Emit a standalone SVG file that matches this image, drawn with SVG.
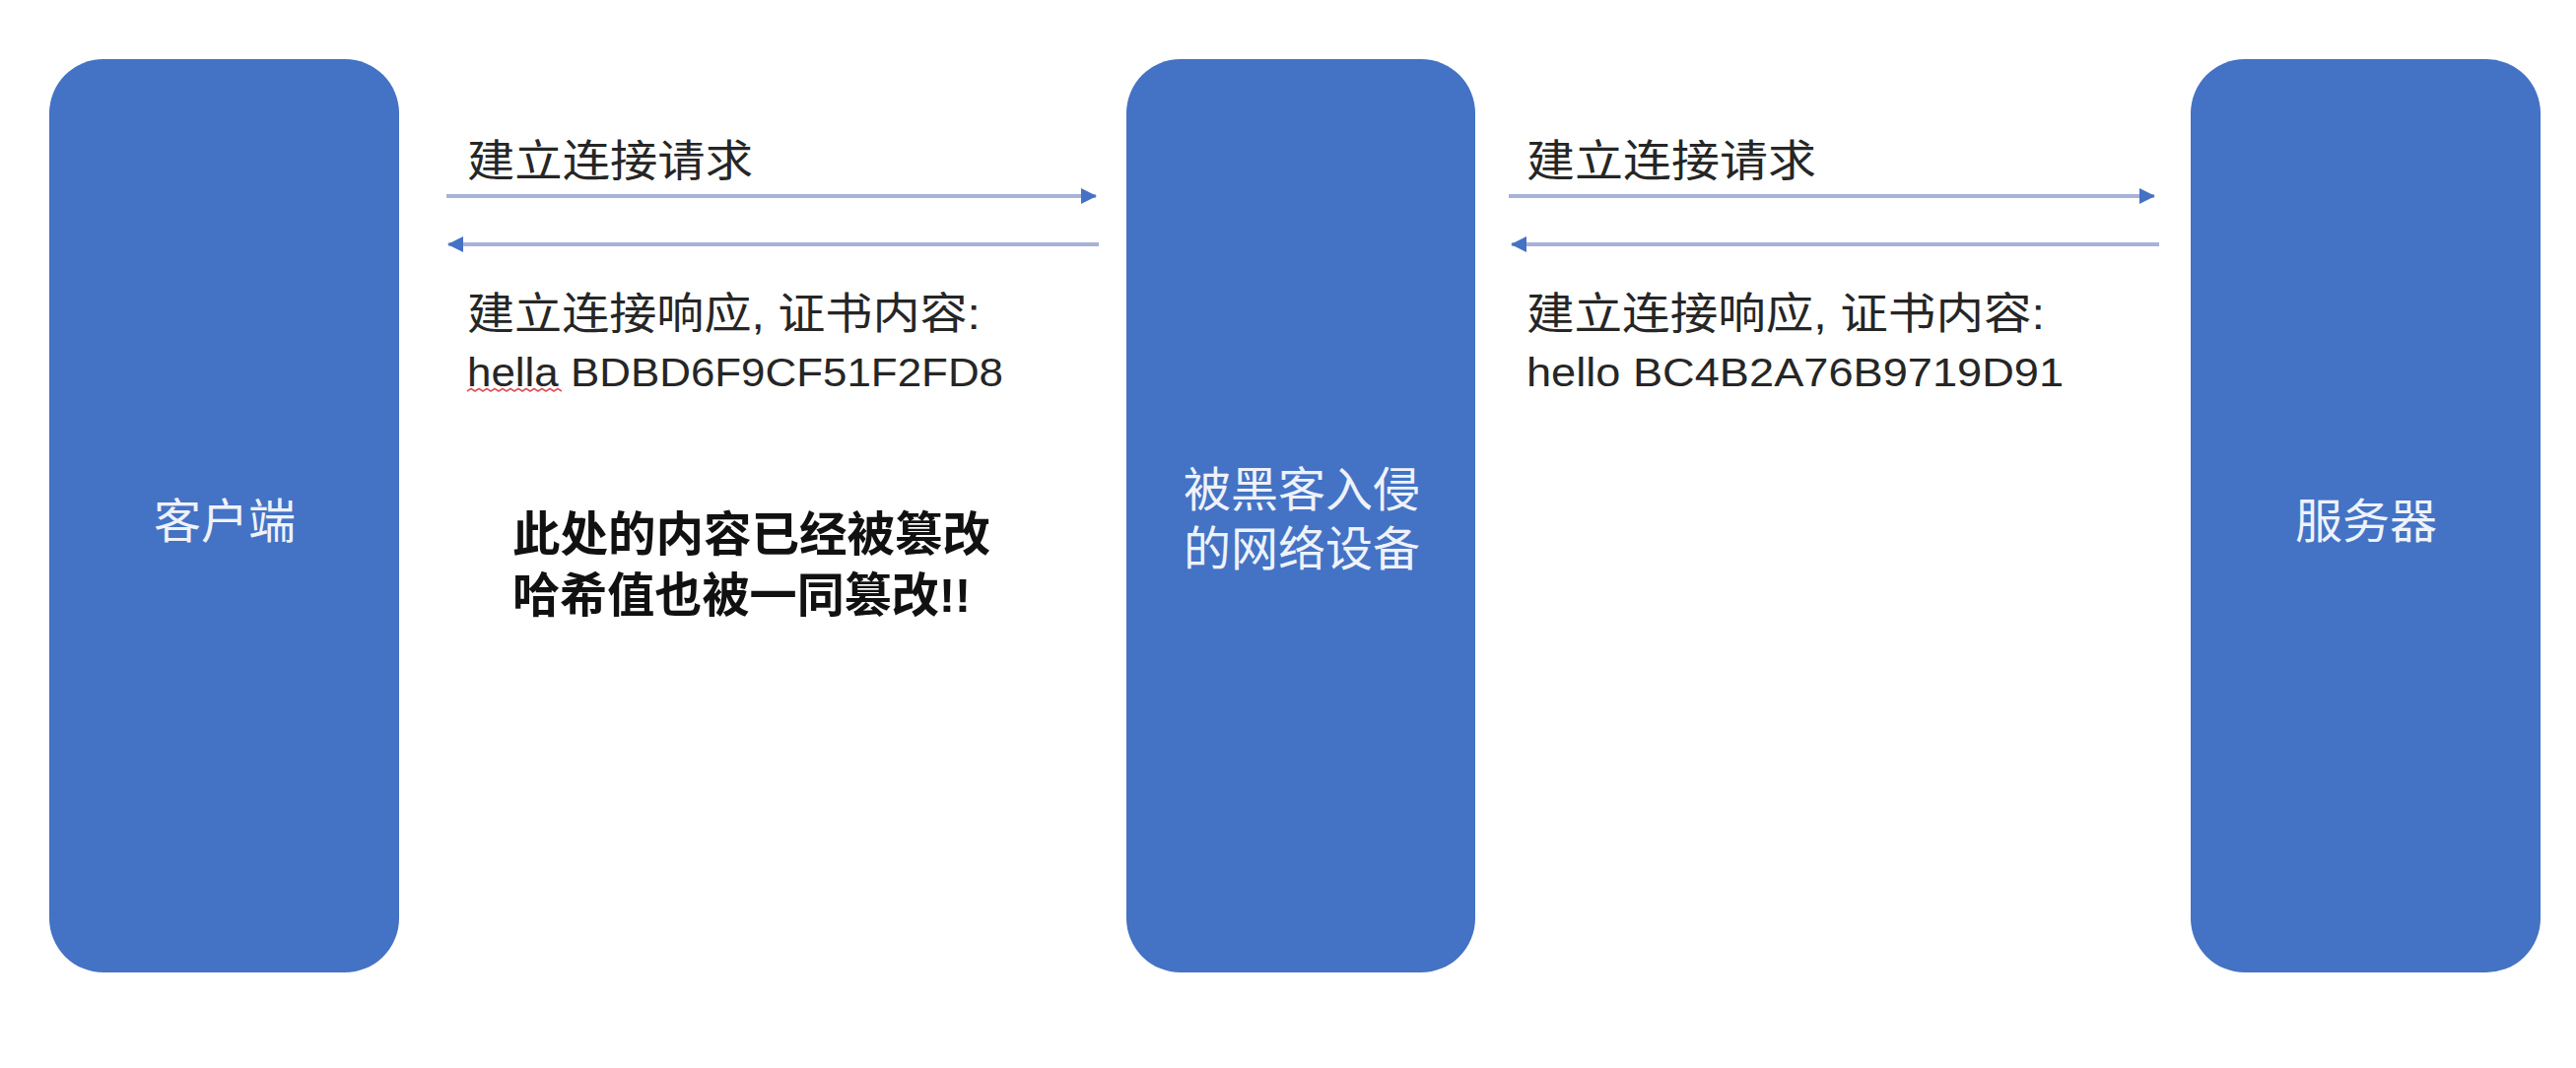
<svg xmlns="http://www.w3.org/2000/svg" width="2614" height="1084" viewBox="0 0 2614 1084">
  <style>
    .box { fill: #4472C4; }
    .lbl { font-family: "Liberation Sans", "Noto Sans CJK SC", sans-serif; font-size: 48px; fill: #EEF2FA; text-anchor: middle; }
    .msg { font-family: "Liberation Sans", "Noto Sans CJK SC", sans-serif; font-size: 44px; fill: #262626; }
    .hex { font-family: "Liberation Sans", "Noto Sans CJK SC", sans-serif; font-size: 40px; fill: #262626; }
    .note { font-family: "Liberation Sans", "Noto Sans CJK SC", sans-serif; font-size: 48px; font-weight: bold; fill: #111111; }
    .conn { stroke: #A7B3D6; stroke-width: 4; fill: none; }
  </style>
  <defs>
    <marker id="ah" markerUnits="userSpaceOnUse" markerWidth="16" markerHeight="18" refX="15" refY="8" orient="auto">
      <path d="M0,0 L16,8 L0,16 Z" fill="#4472C4"/>
    </marker>
  </defs>
  <rect width="2614" height="1084" fill="#FFFFFF"/>

  <g id="client">
    <rect class="box" x="50" y="60" width="355" height="927" rx="55" ry="55"/>
    <text class="lbl" x="228" y="546">客户端</text>
  </g>
  <g id="hacked-device">
    <rect class="box" x="1143" y="60" width="354" height="927" rx="55" ry="55"/>
    <text class="lbl" x="1321" y="514">被黑客入侵</text>
    <text class="lbl" x="1321" y="574">的网络设备</text>
  </g>
  <g id="server">
    <rect class="box" x="2223" y="60" width="355" height="927" rx="55" ry="55"/>
    <text class="lbl" x="2401" y="546">服务器</text>
  </g>

  <g id="connectors">
    <line class="conn" x1="453" y1="199" x2="1112" y2="199" marker-end="url(#ah)"/>
    <line class="conn" x1="1115" y1="248" x2="455" y2="248" marker-end="url(#ah)"/>
    <line class="conn" x1="1531" y1="199" x2="2186" y2="199" marker-end="url(#ah)"/>
    <line class="conn" x1="2191" y1="248" x2="1534" y2="248" marker-end="url(#ah)"/>
  </g>

  <g id="labels">
    <text class="msg" x="474" y="179" textLength="290" lengthAdjust="spacingAndGlyphs">建立连接请求</text>
    <text class="msg" x="474" y="334" textLength="521" lengthAdjust="spacingAndGlyphs">建立连接响应, 证书内容:</text>
    <text class="hex" x="474" y="392" textLength="544" lengthAdjust="spacingAndGlyphs">hella BDBD6F9CF51F2FD8</text>
    <path d="M474,397 l4,-2.5 l4,2.5 l4,-2.5 l4,2.5 l4,-2.5 l4,2.5 l4,-2.5 l4,2.5 l4,-2.5 l4,2.5 l4,-2.5 l4,2.5 l4,-2.5 l4,2.5 l4,-2.5 l4,2.5 l4,-2.5 l4,2.5 l4,-2.5 l4,2.5 l4,-2.5 l4,2.5 l4,-2.5 l4,2.5" stroke="#E0505A" stroke-width="1.5" fill="none"/>

    <text class="msg" x="1549" y="179" textLength="294" lengthAdjust="spacingAndGlyphs">建立连接请求</text>
    <text class="msg" x="1549" y="334" textLength="526" lengthAdjust="spacingAndGlyphs">建立连接响应, 证书内容:</text>
    <text class="hex" x="1549" y="392" textLength="545" lengthAdjust="spacingAndGlyphs">hello BC4B2A76B9719D91</text>

    <text class="note" x="520" y="559" textLength="485" lengthAdjust="spacingAndGlyphs">此处的内容已经被篡改</text>
    <text class="note" x="520" y="621" textLength="465" lengthAdjust="spacingAndGlyphs">哈希值也被一同篡改!!</text>
  </g>
</svg>
